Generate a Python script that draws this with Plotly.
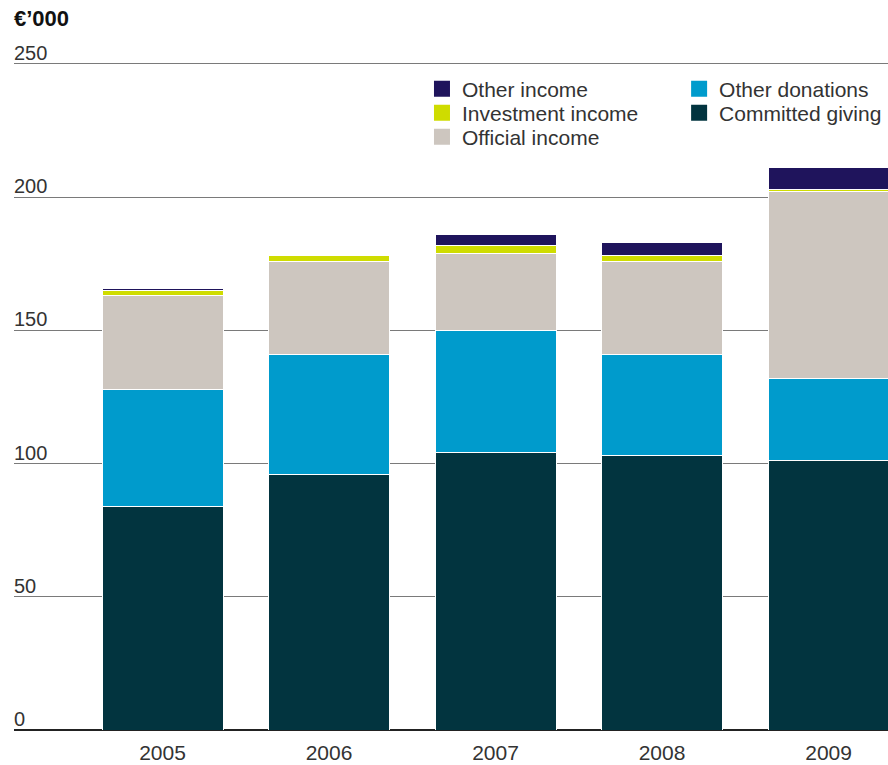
import plotly.graph_objects as go

# Income by source, in thousands of euro
years = ["2005", "2006", "2007", "2008", "2009"]
committed_giving = [84, 96, 104, 103, 101]
other_donations = [44, 45, 46, 38, 31]
official_income = [35, 35, 29, 35, 70]
investment_income = [2, 2, 3, 2, 1]
other_income = [0.8, 0.3, 4, 5, 8]

y_ticks = [0, 50, 100, 150, 200, 250]

FONT = "Liberation Sans, Arial, sans-serif"
TEXT = "#333333"

# name, values, colour, legend id
series = [
    ("Committed giving", committed_giving, "#02343f", "legend5"),
    ("Other donations", other_donations, "#009bcc", "legend4"),
    ("Official income", official_income, "#cdc6bf", "legend3"),
    ("Investment income", investment_income, "#cfdc00", "legend2"),
    ("Other income", other_income, "#1f145c", "legend"),
]

fig = go.Figure()

# stacked bars, bottom segment first
for name, vals, color, _ in series:
    fig.add_trace(go.Bar(
        x=years, y=vals, name=name, showlegend=False,
        marker=dict(color=color, line=dict(color="white", width=1)),
    ))

# square legend keys, one small legend per entry
for name, _, color, leg in series:
    fig.add_trace(go.Scatter(
        x=[None], y=[None], mode="markers", name=name, legend=leg,
        marker=dict(symbol="square", size=16, color=color),
    ))

PLOT_TOP, PLOT_BOTTOM = 40, 730


def paper_y(px):
    return (PLOT_BOTTOM - px) / (PLOT_BOTTOM - PLOT_TOP)


def legend_box(x, row_px):
    return dict(
        x=x, y=paper_y(row_px), xanchor="left", yanchor="middle",
        font=dict(family=FONT, size=21, color=TEXT),
        bgcolor="rgba(0,0,0,0)", itemclick=False, itemdoubleclick=False,
    )


col1, col2 = 0.4668, 0.761
fig.update_layout(
    width=888, height=765,
    margin=dict(l=14, r=0, t=PLOT_TOP, b=765 - PLOT_BOTTOM),
    paper_bgcolor="white", plot_bgcolor="white",
    barmode="stack", bargap=0.273,
    font=dict(family=FONT, size=20, color=TEXT),
    title=dict(
        text="<b>€’000</b>", x=14 / 888, xref="container", xanchor="left",
        y=1 - 18 / 765, yref="container", yanchor="middle",
        font=dict(family=FONT, size=22, color="#111111"),
    ),
    xaxis=dict(
        type="category", range=[-0.892, 4.357],
        showgrid=False, showline=False, ticks="",
        ticklabelstandoff=8,
        tickfont=dict(family=FONT, size=21, color=TEXT),
    ),
    yaxis=dict(
        range=[0, 259.0], tickvals=y_ticks,
        showgrid=True, gridcolor="#7a7a7a", gridwidth=1,
        zeroline=True, zerolinecolor="#222222", zerolinewidth=1.5,
        showline=False, ticks="",
        ticklabelposition="inside top", ticklabelstandoff=-3,
        ticklabelshift=3, ticklabeloverflow="allow",
        tickfont=dict(family=FONT, size=20, color=TEXT),
    ),
    legend=legend_box(col1, 89),
    legend2=legend_box(col1, 113),
    legend3=legend_box(col1, 137),
    legend4=legend_box(col2, 89),
    legend5=legend_box(col2, 113),
)

fig.write_html("out.html")
